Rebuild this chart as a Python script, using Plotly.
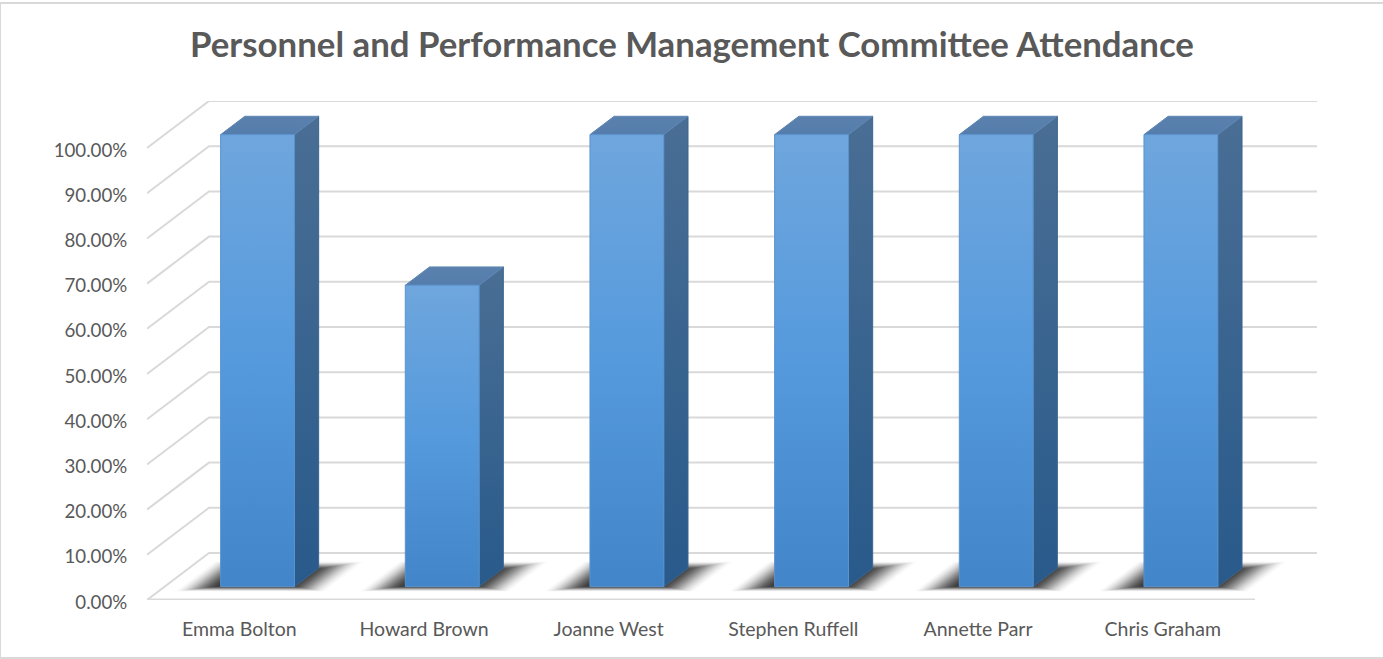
import plotly.graph_objects as go

# ---- data ----
categories = ["Emma Bolton", "Howard Brown", "Joanne West", "Stephen Ruffell", "Annette Parr", "Chris Graham"]
attendance = [100.0, 66.67, 100.0, 100.0, 100.0, 100.0]
grid_values = [0, 10, 20, 30, 40, 50, 60, 70, 80, 90, 100]
grid_labels = ["0.00%", "10.00%", "20.00%", "30.00%", "40.00%", "50.00%",
               "60.00%", "70.00%", "80.00%", "90.00%", "100.00%"]
title_text = "Personnel and Performance Management Committee Attendance"

# ---- oblique projection (depth 0..1 maps to a shift in axis units) ----
DEPTH_X = 62 / 184.67
DEPTH_Y = 47 / 4.52
BAR_GAP = 0.303
BAR_W = 0.40
Z_FRONT = 0.285
Z_BACK = 0.675
GRID = "#D9D9D9"
TEXT = "#595959"


def proj(x, y, z):
    return x + z * DEPTH_X, y + z * DEPTH_Y


def poly(points):
    pts = [proj(*p) for p in points]
    pts.append(pts[0])
    return [p[0] for p in pts], [p[1] for p in pts]


fig = go.Figure()


def add_line(xs, ys, color=GRID, width=2):
    fig.add_trace(go.Scatter(x=xs, y=ys, mode="lines", line=dict(color=color, width=width),
                             hoverinfo="skip", showlegend=False))


n = len(categories)
# walls / floor grid
for g in grid_values:
    x0, y0 = proj(0, g, 0)
    x1, y1 = proj(0, g, 1)
    x2, y2 = proj(n, g, 1)
    add_line([x0, x1, x2], [y0, y1, y2])
fx0, fy0 = proj(0, 0, 0)
fx1, fy1 = proj(n, 0, 0)
add_line([fx0, fx1], [fy0 + 0.05, fy1 + 0.05], width=2.5)

# floor shadows: stacked translucent footprints, soft at the outer edge
LAYERS = 26
for i, v in enumerate(attendance):
    for k in range(LAYERS):
        t = k / (LAYERS - 1)
        ul = i + 0.09 + t * 0.22
        ur = i + 0.90 - t * 0.24
        zf = 0.18 + t * 0.13
        zb = 0.82 - t * 0.20
        alpha = 0.01 + 0.09 * min(1.0, t / 0.6)
        xs, ys = poly([(ul, 0, zf), (ur, 0, zf), (ur, 0, zb), (ul, 0, zb)])
        fig.add_trace(go.Scatter(x=xs, y=ys, mode="lines", fill="toself",
                                 line=dict(width=0), fillcolor=f"rgba(20,20,20,{alpha:.3f})",
                                 hoverinfo="skip", showlegend=False))


def add_face(points, stops, edge):
    xs, ys = poly(points)
    fig.add_trace(go.Scatter(
        x=xs, y=ys, mode="lines", fill="toself",
        line=dict(color=edge, width=1),
        fillgradient=dict(type="vertical", colorscale=stops),
        hoverinfo="skip", showlegend=False))


# bars
for i, v in enumerate(attendance):
    l = i + BAR_GAP
    r = l + BAR_W
    add_face([(r, 0, Z_FRONT), (r, 0, Z_BACK), (r, v, Z_BACK), (r, v, Z_FRONT)],
             [[0, "#285A8B"], [1, "#4A6E94"]], "#3A6590")
    add_face([(l, v, Z_FRONT), (r, v, Z_FRONT), (r, v, Z_BACK), (l, v, Z_BACK)],
             [[0, "#557DAB"], [1, "#5A81AE"]], "#5F87B4")
    add_face([(l, 0, Z_FRONT), (r, 0, Z_FRONT), (r, v, Z_FRONT), (l, v, Z_FRONT)],
             [[0, "#4285C9"], [0.5, "#559ADD"], [1, "#6FA6DD"]], "#5A93CE")

fig.update_layout(
    width=1383, height=659,
    margin=dict(l=147, r=65, t=101, b=59),
    paper_bgcolor="white", plot_bgcolor="white",
    font=dict(family="Lato", color=TEXT, size=18),
    title=dict(text="<b>" + title_text + "</b>", x=692 / 1383, xanchor="center",
               y=1 - 45 / 659, yanchor="middle",
               font=dict(family="Lato", size=34.8, color=TEXT)),
    xaxis=dict(range=[0, 1171 / 184.67], showgrid=False, zeroline=False, showline=False,
               tickmode="array", tickvals=[i + 0.5 for i in range(n)], ticktext=categories,
               ticks="outside", ticklen=12, tickcolor="rgba(0,0,0,0)",
               tickfont=dict(family="Lato", size=19.5, color=TEXT)),
    yaxis=dict(range=[0, 499 / 4.52], showgrid=False, zeroline=False, showline=False,
               tickmode="array", tickvals=grid_values, ticktext=grid_labels,
               ticks="outside", ticklen=15, tickcolor="rgba(0,0,0,0)",
               ticklabelshift=2,
               tickfont=dict(family="Lato", size=18.7, color=TEXT)),
    shapes=[
        dict(type="rect", xref="paper", yref="paper",
             x0=-147 / 1171, x1=(1383 - 147 + 4) / 1171,
             y0=-58 / 499, y1=(600 - 3) / 499,
             line=dict(color="#D9D9D9", width=2), fillcolor="rgba(0,0,0,0)", layer="below"),
    ],
)

fig.write_html("out.html", config={"displayModeBar": False},
               post_script="document.body.style.margin='0';document.documentElement.style.overflow='hidden';")
